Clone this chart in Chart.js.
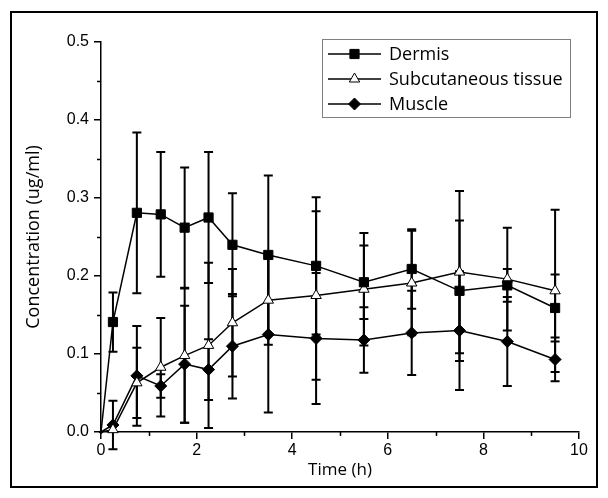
<!DOCTYPE html>
<html>
<head>
<meta charset="utf-8">
<script src="https://cdn.jsdelivr.net/npm/chart.js@4.4.0/dist/chart.umd.min.js"></script>
<style>
    body { margin: 0; background: #fff; }
    #wrap { width: 608px; height: 498px; }
</style>
</head>
<body>
<div id="wrap"><canvas id="myChart" width="608" height="498"></canvas></div>
<script>
// time points (h)
var time_h = [0, 0.25, 0.75, 1.25, 1.75, 2.25, 2.75, 3.5, 4.5, 5.5, 6.5, 7.5, 8.5, 9.5];
// concentrations (ug/ml) and their error bars
var dermis = [0, 0.141, 0.281, 0.279, 0.262, 0.275, 0.240, 0.227, 0.213, 0.192, 0.209, 0.181, 0.188, 0.159];
var dermis_err = [0, 0.038, 0.103, 0.080, 0.077, 0.084, 0.066, 0.102, 0.088, 0.047, 0.051, 0.090, 0.021, 0.043];
var subcut = [0, 0.003, 0.063, 0.083, 0.098, 0.111, 0.140, 0.169, 0.175, 0.183, 0.191, 0.205, 0.196, 0.181];
var subcut_err = [0, 0, 0.045, 0.063, 0.086, 0.106, 0.069, 0.057, 0.108, 0.072, 0.067, 0.104, 0.066, 0.104];
var muscle = [0, 0.009, 0.072, 0.059, 0.087, 0.080, 0.110, 0.125, 0.120, 0.118, 0.127, 0.130, 0.116, 0.093];
var muscle_err = [0, 0.031, 0.064, 0.015, 0.075, 0.039, 0.067, 0.100, 0.084, 0.042, 0.054, 0.076, 0.057, 0.028];
var x_ticks = [0, 2, 4, 6, 8, 10];
var y_ticks = [0.0, 0.1, 0.2, 0.3, 0.4, 0.5];
var legend_names = ["Dermis", "Subcutaneous tissue", "Muscle"];

function pts(ys) {
    return ys.map(function (v, i) { return { x: time_h[i], y: v }; });
}

var all_err = [dermis_err, subcut_err, muscle_err];

// error bars under the markers
var errorBars = {
    id: 'errorBars',
    beforeDatasetsDraw: function (chart) {
        var ctx = chart.ctx;
        var xs = chart.scales.x, ys = chart.scales.y;
        ctx.save();
        ctx.strokeStyle = '#000';
        ctx.lineWidth = 2;
        chart.data.datasets.forEach(function (ds, k) {
            ds.data.forEach(function (p, i) {
                var e = all_err[k][i];
                if (!e) return;
                var px = xs.getPixelForValue(p.x);
                var top = ys.getPixelForValue(p.y + e);
                var bot = ys.getPixelForValue(p.y - e);
                ctx.beginPath();
                ctx.moveTo(px, top); ctx.lineTo(px, bot);
                ctx.moveTo(px - 4.5, top); ctx.lineTo(px + 4.5, top);
                ctx.moveTo(px - 4.5, bot); ctx.lineTo(px + 4.5, bot);
                ctx.stroke();
            });
        });
        ctx.restore();
    }
};

// minor ticks, frame and legend box
var extras = {
    id: 'extras',
    beforeDraw: function (chart) {
        var ctx = chart.ctx;
        ctx.save();
        ctx.fillStyle = '#fff';
        ctx.fillRect(0, 0, chart.width, chart.height);
        ctx.strokeStyle = '#000';
        ctx.lineWidth = 2;
        ctx.strokeRect(11, 12, 586, 475);
        ctx.restore();
    },
    afterDraw: function (chart) {
        var ctx = chart.ctx;
        var xs = chart.scales.x, ys = chart.scales.y;
        var area = chart.chartArea;
        ctx.save();
        ctx.strokeStyle = '#000';
        ctx.lineWidth = 1.5;
        ctx.beginPath();
        for (var i = 1; i < 10; i += 2) {
            var px = Math.round(xs.getPixelForValue(i)) + 0.5;
            ctx.moveTo(px, area.bottom); ctx.lineTo(px, area.bottom + 4);
        }
        for (var j = 0; j < 5; j++) {
            var py = Math.round(ys.getPixelForValue(0.05 + j * 0.1)) + 0.5;
            ctx.moveTo(area.left, py); ctx.lineTo(area.left - 4, py);
        }
        ctx.stroke();

        // legend
        ctx.strokeStyle = '#808080';
        ctx.lineWidth = 1;
        ctx.strokeRect(322.5, 39.5, 248, 78);
        ctx.font = '18px "Open Sans"';
        ctx.textBaseline = 'middle';
        var rows = [54, 79, 104];
        chart.data.datasets.forEach(function (ds, k) {
            var y = rows[k];
            ctx.strokeStyle = '#000';
            ctx.lineWidth = 1.5;
            ctx.beginPath();
            ctx.moveTo(328, y); ctx.lineTo(381, y);
            ctx.stroke();
            ctx.fillStyle = ds.pointBackgroundColor;
            ctx.lineWidth = 1;
            Chart.helpers.drawPoint(ctx, {
                pointStyle: ds.pointStyle,
                radius: ds.pointRadius[1],
                borderWidth: 1
            }, 354.5, y);
            ctx.fillStyle = '#000';
            ctx.fillText(legend_names[k], 389, y + 1);
        });
        ctx.restore();
    }
};

function series(label, ys, style, fill, r) {
    return {
        label: label,
        data: pts(ys),
        showLine: true,
        borderColor: '#000',
        borderWidth: 1.5,
        tension: 0,
        pointStyle: style,
        pointRadius: ys.map(function (v, i) { return i === 0 ? 1.5 : r; }),
        pointBackgroundColor: fill,
        pointBorderColor: '#000',
        pointBorderWidth: 1,
        clip: false
    };
}

var ctx = document.getElementById('myChart');
var chart = new Chart(ctx, {
    type: 'scatter',
    data: {
        datasets: [
            series(legend_names[0], dermis, 'rect', '#000', 6.5),
            series(legend_names[1], subcut, 'triangle', '#fff', 6),
            series(legend_names[2], muscle, 'rectRot', '#000', 6)
        ]
    },
    options: {
        responsive: false,
        animation: false,
        devicePixelRatio: 1,
        layout: { padding: { top: 42, right: 29, left: 0, bottom: 0 } },
        scales: {
            x: {
                type: 'linear',
                min: 0,
                max: 10,
                afterFit: function (s) { s.height = 66; },
                afterBuildTicks: function (s) { s.ticks = x_ticks.map(function (v) { return { value: v }; }); },
                grid: { drawOnChartArea: false, drawTicks: true, tickLength: 7, color: '#000', lineWidth: 1.5 },
                border: { color: '#000', width: 1.5 },
                ticks: {
                    color: '#000',
                    padding: 2,
                    maxRotation: 0,
                    font: { family: '"Liberation Sans", Arial', size: 16 },
                    callback: function (v) { return v; }
                },
                title: {
                    display: true,
                    text: 'Time (h)',
                    color: '#000',
                    font: { family: '"Open Sans"', size: 17 },
                    padding: { top: 0, bottom: 18 }
                }
            },
            y: {
                min: 0,
                max: 0.5,
                afterFit: function (s) { s.width = 101; },
                afterBuildTicks: function (s) { s.ticks = y_ticks.map(function (v) { return { value: v }; }); },
                grid: { drawOnChartArea: false, drawTicks: true, tickLength: 7, color: '#000', lineWidth: 1.5 },
                border: { color: '#000', width: 1.5 },
                ticks: {
                    color: '#000',
                    padding: 5,
                    font: { family: '"Liberation Sans", Arial', size: 16 },
                    callback: function (v) { return v.toFixed(1); }
                },
                title: {
                    display: true,
                    text: 'Concentration (ug/ml)',
                    color: '#000',
                    font: { family: '"Open Sans"', size: 18 },
                    padding: { top: 23, bottom: 0 }
                }
            }
        },
        plugins: {
            legend: { display: false },
            tooltip: { enabled: false }
        }
    },
    plugins: [errorBars, extras]
});
</script>
</body>
</html>
